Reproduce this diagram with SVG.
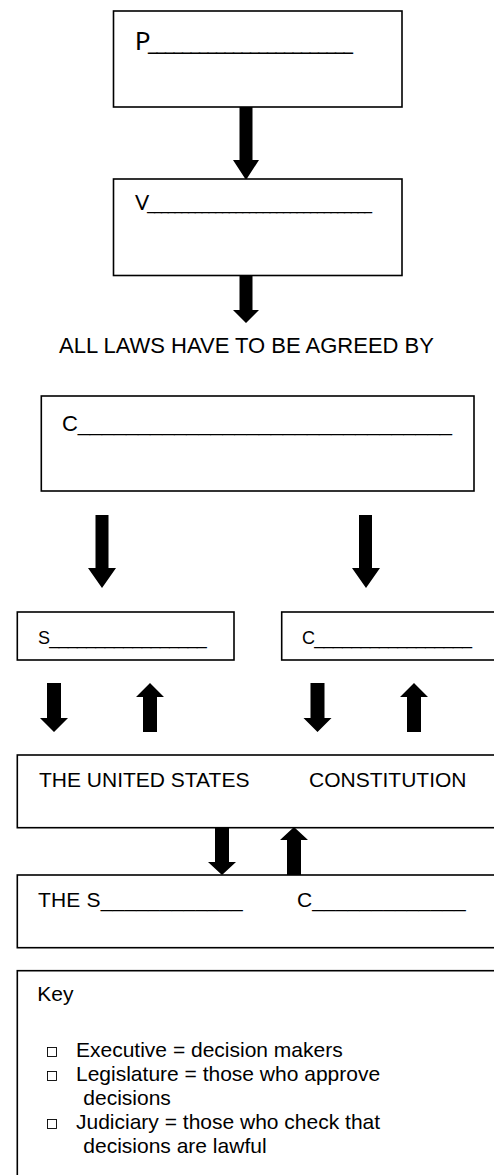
<svg xmlns="http://www.w3.org/2000/svg" width="494" height="1175" viewBox="0 0 494 1175">
<style>
.box{fill:#fff;stroke:#000;stroke-width:1.6}
.arr{fill:#000;stroke:none}
.a{font-family:"Liberation Sans",Arial,sans-serif;fill:#000}
.c{font-family:Lato,"Open Sans",sans-serif;fill:#000}
.bul{fill:#fff;stroke:#000;stroke-width:0.9}
</style>
<rect width="494" height="1175" fill="#fff"/>
<g id="connectors">
<polygon class="arr" points="239.5,107 252.5,107 252.5,160 259,160 246,180 233,160 239.5,160"/>
<polygon class="arr" points="239.5,276 252.5,276 252.5,310 259,310 246,323 233,310 239.5,310"/>
<polygon class="arr" points="95.5,515 108.5,515 108.5,568 116,568 102,588 88,568 95.5,568"/>
<polygon class="arr" points="359,515 372,515 372,568 380,568 366,588 352,568 359,568"/>
<polygon class="arr" points="47,683 61,683 61,718 68,718 54,732 40,718 47,718"/>
<polygon class="arr" points="143,732 157,732 157,697 164,697 150,683 136,697 143,697"/>
<polygon class="arr" points="310.5,683 324.5,683 324.5,718 331.5,718 317.5,732 303.5,718 310.5,718"/>
<polygon class="arr" points="407,732 421,732 421,697 428,697 414,683 400,697 407,697"/>
<polygon class="arr" points="215,828 229,828 229,862 236,862 222,875 208,862 215,862"/>
<polygon class="arr" points="287,875 301,875 301,840 308,840 294,827 280,840 287,840"/>
</g>
<g id="node-p">
<rect class="box" x="113.5" y="11" width="288.5" height="96"/>
<text class="c" x="135" y="50" font-size="25" textLength="219" lengthAdjust="spacing">P________________________</text>
</g>
<g id="node-v">
<rect class="box" x="113.5" y="179" width="288.5" height="96.5"/>
<text class="c" x="135" y="210" font-size="21" textLength="238" lengthAdjust="spacing">V_________________________________</text>
</g>
<g id="label-all-laws">
<text class="a" x="59" y="352.5" font-size="22">ALL LAWS HAVE TO BE AGREED BY</text>
</g>
<g id="node-c">
<rect class="box" x="41.3" y="396" width="432.7" height="95"/>
<text class="a" x="62" y="431" font-size="22" textLength="390" lengthAdjust="spacing">C_______________________________</text>
</g>
<g id="node-s">
<rect class="box" x="17.3" y="612" width="216.7" height="48"/>
<text class="a" x="38" y="643.5" font-size="18" textLength="168.7" lengthAdjust="spacing">S_________________</text>
</g>
<g id="node-c2">
<rect class="box" x="281.7" y="612" width="230" height="48"/>
<text class="a" x="302" y="643.5" font-size="18" textLength="170" lengthAdjust="spacing">C_________________</text>
</g>
<g id="node-constitution">
<rect class="box" x="17.3" y="755" width="500" height="72.7"/>
<text class="a" x="39" y="786.7" font-size="21">THE UNITED STATES</text>
<text class="a" x="309" y="786.7" font-size="21">CONSTITUTION</text>
</g>
<g id="node-the-s">
<rect class="box" x="17.3" y="875" width="500" height="72.7"/>
<text class="a" x="38" y="906.7" font-size="21" textLength="204.7" lengthAdjust="spacing">THE S____________</text>
<text class="a" x="297" y="906.7" font-size="21" textLength="168.7" lengthAdjust="spacing">C_____________</text>
</g>
<g id="node-key">
<rect class="box" x="17.3" y="970.7" width="500" height="250"/>
<text class="a" x="37.3" y="1001" font-size="21">Key</text>
<rect class="bul" x="47.5" y="1047.5" width="9" height="9"/>
<text class="a" x="76" y="1056.7" font-size="21">Executive = decision makers</text>
<rect class="bul" x="47.5" y="1071.5" width="9" height="9"/>
<text class="a" x="76" y="1080.7" font-size="21">Legislature = those who approve</text>
<text class="a" x="83.3" y="1105" font-size="21">decisions</text>
<rect class="bul" x="47.5" y="1119.5" width="9" height="9"/>
<text class="a" x="76" y="1129" font-size="21">Judiciary = those who check that</text>
<text class="a" x="83.3" y="1153.3" font-size="21">decisions are lawful</text>
</g>
</svg>
